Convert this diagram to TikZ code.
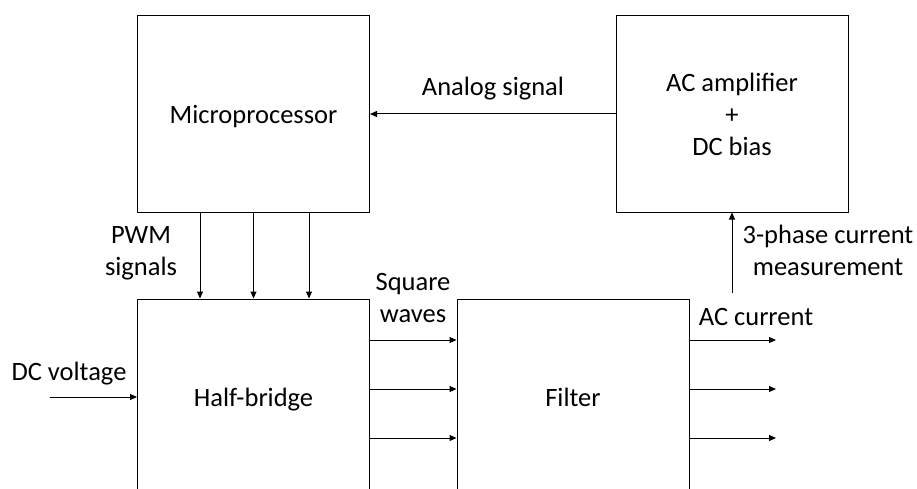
\documentclass[tikz,border=0pt]{standalone}
\usepackage{fontspec}
\setmainfont{Carlito}
\usetikzlibrary{arrows.meta,positioning}
\tikzset{
  block/.style={draw,line width=1pt,minimum width=232pt,minimum height=196pt,inner sep=0pt,align=center,text depth=0pt},
  lbl/.style={align=center,inner sep=0pt},
  sig/.style={-{Triangle[length=7pt,width=6pt]},line width=1pt}
}
\begin{document}
\begin{tikzpicture}[x=1pt,y=-1pt,font=\fontsize{26.5}{32}\selectfont]
  \useasboundingbox (0,0) rectangle (917,489);
  \clip (0,0) rectangle (917,489);
  % blocks
  \node[block] (micro) at (253.5,114) {Microprocessor};
  \node[block] (amp) at (732,114) {AC amplifier\\+\\DC bias};
  \node[block] (hb) at (253.5,397) {Half-bridge};
  \node[block] (filter) at (573,397) {Filter};
  % free ends
  \coordinate (dcin) at (50,397);
  \coordinate (meas) at (732,293);
  \coordinate (out1) at (776,340);
  \coordinate (out2) at (776,389);
  \coordinate (out3) at (776,438);
  % connectors
  \draw[sig] (amp.west) -- (micro.east);
  \draw[sig] ([xshift=-53.5pt]micro.south) -- ([xshift=-53.5pt]hb.north);
  \draw[sig] (micro.south) -- (hb.north);
  \draw[sig] ([xshift=55.5pt]micro.south) -- ([xshift=55.5pt]hb.north);
  \draw[sig] (dcin) -- (hb.west);
  \draw[sig] ([yshift=57pt]hb.east) -- ([yshift=57pt]filter.west);
  \draw[sig] ([yshift=8pt]hb.east) -- ([yshift=8pt]filter.west);
  \draw[sig] ([yshift=-41pt]hb.east) -- ([yshift=-41pt]filter.west);
  \draw[sig] (filter.east |- out1) -- (out1);
  \draw[sig] (filter.east |- out2) -- (out2);
  \draw[sig] (filter.east |- out3) -- (out3);
  \draw[sig] (meas) -- (amp.south);
  % labels
  \node[lbl] (analog) at (493,89) {Analog signal};
  \node[lbl] (pwm) at (141,253) {PWM\\signals};
  \node[lbl] (square) at (413,298) {Square\\waves};
  \node[lbl] (dcv) at (69,374) {DC voltage};
  \node[lbl] (accur) at (756,317) {AC current};
  \node[lbl] (phase) at (828,250) {3-phase current\\measurement};
\end{tikzpicture}
\end{document}
